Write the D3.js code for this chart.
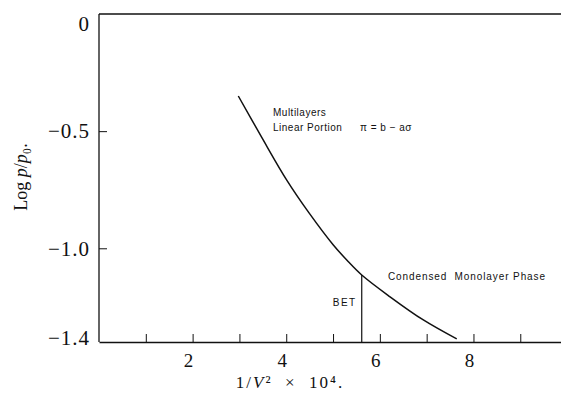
<!DOCTYPE html>
<html>
<head>
<meta charset="utf-8">
<script src="https://cdn.jsdelivr.net/npm/d3@7"></script>
<style>
  body { margin: 0; background: #fff; }
  svg { display: block; }
  .serif { font-family: "Liberation Serif", "DejaVu Serif", serif; fill: #111; }
  .note { font-family: "Liberation Sans", "DejaVu Sans", sans-serif; font-size: 10px; fill: #111; letter-spacing: 0.5px; }
</style>
</head>
<body>
<svg width="561" height="410"></svg>
<script>
// curve: 1/V^2 x 10^4 against log p/p0
const curveX = [2.976, 3.483, 4.011, 4.487, 5.006, 5.293, 5.613, 6.218, 6.929, 7.643];
const curveY = [-0.350, -0.529, -0.709, -0.849, -0.986, -1.050, -1.114, -1.207, -1.306, -1.387];

// where the BET point sits on the curve
const betX = 5.613;
const betY = -1.114;

// axis ticks
const xTicks = [1, 2, 3, 4, 5, 6, 7, 8, 9];
const xTickLabels = [2, 4, 6, 8];
const yTickLabels = [0, -0.5, -1.0, -1.4];

const svg = d3.select("svg");

const x = d3.scaleLinear().domain([0, 9.87]).range([99, 561]);
const y = d3.scaleLinear().domain([-1.4, 0]).range([342, 14]);

// frame: left and top, no right border
svg.append("line")
  .attr("x1", x(0)).attr("x2", x(0))
  .attr("y1", y(0)).attr("y2", y(-1.4))
  .attr("stroke", "#111").attr("stroke-width", 1.3);
svg.append("line")
  .attr("x1", x(0)).attr("x2", x(9.87))
  .attr("y1", y(0)).attr("y2", y(0))
  .attr("stroke", "#111").attr("stroke-width", 1.3);

// bottom axis, ticks pointing inward
const xAxis = svg.append("g")
  .attr("transform", "translate(0," + y(-1.4) + ")")
  .call(d3.axisBottom(x).tickValues(xTicks).tickSizeInner(-8).tickSizeOuter(0).tickFormat(""));
xAxis.select(".domain").attr("stroke", "#111").attr("stroke-width", 1.3);
xAxis.selectAll(".tick line").attr("stroke", "#111").attr("stroke-width", 1);

// left axis ticks
const yAxis = svg.append("g")
  .attr("transform", "translate(" + x(0) + ",0)")
  .call(d3.axisLeft(y).tickValues([-0.5, -1.0]).tickSizeInner(-8).tickSizeOuter(0).tickFormat(""));
yAxis.select(".domain").remove();
yAxis.selectAll(".tick line").attr("stroke", "#111").attr("stroke-width", 1);

// tick labels
svg.selectAll(".xlab")
  .data(xTickLabels)
  .enter()
  .append("text")
  .attr("class", "serif xlab")
  .attr("x", d => x(d) - 4)
  .attr("y", 367)
  .attr("text-anchor", "middle")
  .style("font-size", "19px")
  .text(d => d);

const yShift = { "0": 10, "-1.4": -4 };
svg.selectAll(".ylab")
  .data(yTickLabels)
  .enter()
  .append("text")
  .attr("class", "serif ylab")
  .attr("x", 90)
  .attr("y", d => y(d) + (yShift[String(d)] || 0))
  .attr("dy", "0.35em")
  .attr("text-anchor", "end")
  .style("font-size", "21px")
  .style("letter-spacing", "1px")
  .text(d => d === 0 ? "0" : "\u2212" + d3.format(".1f")(-d));

// axis titles
const xt = svg.append("text")
  .attr("class", "serif")
  .attr("x", 290).attr("y", 388)
  .attr("text-anchor", "middle")
  .style("font-size", "17px")
  .style("letter-spacing", "2px");
xt.append("tspan").text("1/");
xt.append("tspan").style("font-style", "italic").text("V");
xt.append("tspan").text("\u00b2 \u00a0\u00d7\u00a0 10\u2074.");

const yt = svg.append("text")
  .attr("class", "serif")
  .attr("transform", "translate(27,177) rotate(-90)")
  .attr("text-anchor", "middle")
  .style("font-size", "18px");
yt.append("tspan").text("Log ");
yt.append("tspan").style("font-style", "italic").text("p");
yt.append("tspan").text("/");
yt.append("tspan").style("font-style", "italic").text("p");
yt.append("tspan").text("\u2080.");

// the isotherm curve
const pts = curveX.map((d, i) => [d, curveY[i]]);
const line = d3.line()
  .x(d => x(d[0]))
  .y(d => y(d[1]))
  .curve(d3.curveCatmullRom);

svg.append("path")
  .datum(pts)
  .attr("d", line)
  .attr("fill", "none")
  .attr("stroke", "#111")
  .attr("stroke-width", 1.5);

// BET marker line
svg.append("line")
  .attr("x1", x(betX)).attr("x2", x(betX))
  .attr("y1", y(betY)).attr("y2", y(-1.4))
  .attr("stroke", "#111").attr("stroke-width", 1.2);

// notes
svg.append("text").attr("class", "note")
  .attr("x", 273).attr("y", 116).text("Multilayers");
svg.append("text").attr("class", "note")
  .attr("x", 273).attr("y", 131).text("Linear Portion");
svg.append("text").attr("class", "note")
  .attr("x", 360).attr("y", 131).text("\u03c0 = b \u2212 a\u03c3");
svg.append("text").attr("class", "note")
  .attr("x", 388).attr("y", 280)
  .style("letter-spacing", "0.9px")
  .text("Condensed\u00a0 Monolayer Phase");
svg.append("text").attr("class", "note")
  .attr("x", x(betX) - 5).attr("y", 306)
  .attr("text-anchor", "end")
  .style("letter-spacing", "1.5px")
  .text("BET");
</script>
</body>
</html>
